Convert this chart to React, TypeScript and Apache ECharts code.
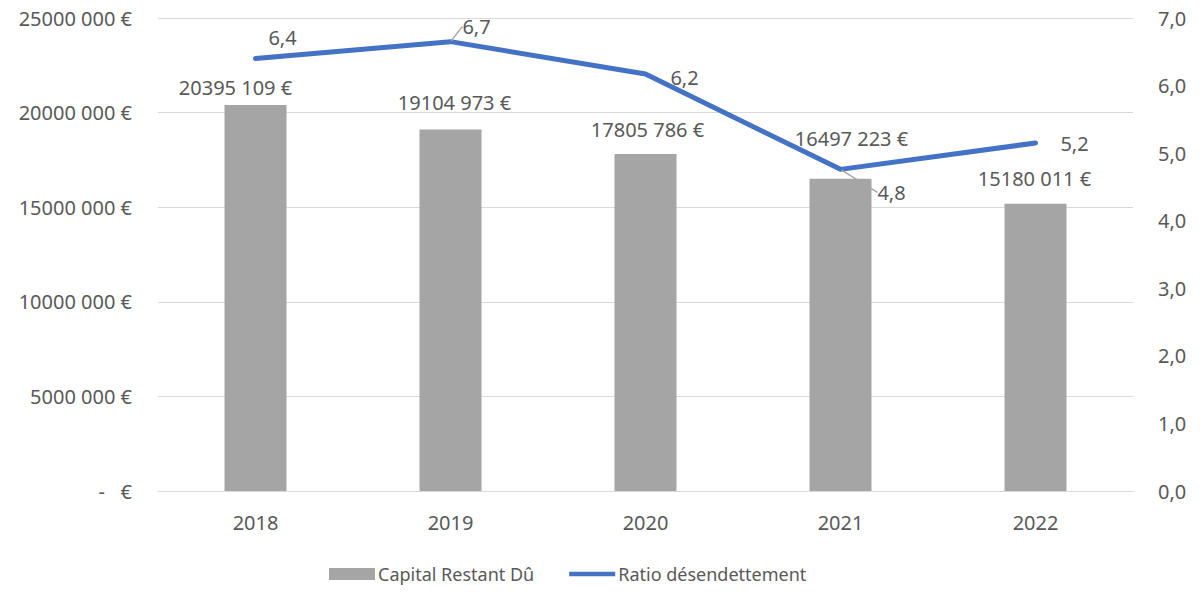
import React, { useEffect, useRef } from "react";
import * as echarts from "echarts";

const years = ["2018", "2019", "2020", "2021", "2022"];
const capital = [20395109, 19104973, 17805786, 16497223, 15180011];
const capitalLabels = ["20395 109 €", "19104 973 €", "17805 786 €", "16497 223 €", "15180 011 €"];
const ratio = [6.4, 6.65, 6.17, 4.76, 5.15];
const ratioLabels = ["6,4", "6,7", "6,2", "4,8", "5,2"];
const leftTickLabels = ["-   €", "5000 000 €", "10000 000 €", "15000 000 €", "20000 000 €", "25000 000 €"];
const rightTickLabels = ["0,0", "1,0", "2,0", "3,0", "4,0", "5,0", "6,0", "7,0"];

const barLabelOffsets = [[-20, -3], [4, -12], [2, -10], [11, -25], [-1, -10]];
const lineLabelOffsets = [[27, -21], [26, -15], [39, 3], [51, 23], [39, 0]];
const lineLeader = [false, true, false, true, false];

const FONT = "'Noto Sans', Roboto, sans-serif";
const TXT = "#595959";
const FS = 20;

export default function App() {
  const ref = useRef<HTMLDivElement>(null);
  useEffect(() => {
    if (!ref.current) return;
    document.body.style.margin = "0";
    const chart = echarts.init(ref.current, undefined, { renderer: "svg" });
    chart.setOption({
      animation: false,
      textStyle: { fontFamily: FONT },
      grid: { left: 158, right: 68, top: 18, bottom: 101, containLabel: false },
      legend: {
        bottom: 4,
        left: 324,
        itemGap: 35,
        itemWidth: 46,
        itemHeight: 12,
        textStyle: { color: TXT, fontSize: 18, fontFamily: FONT, padding: [0, 0, 0, -2] },
        data: [
          { name: "Capital Restant Dû", icon: "rect" },
          {
            name: "Ratio désendettement",
            icon: "path://M0,0 L50,0 L50,5 L0,5 Z",
            itemStyle: { color: "#4472c4", opacity: 1 },
          },
        ],
      },
      xAxis: {
        type: "category",
        data: years,
        axisLine: { lineStyle: { color: "#d9d9d9", width: 1 } },
        axisTick: { show: false },
        axisLabel: { color: TXT, fontSize: FS, margin: 21 },
      },
      yAxis: [
        {
          type: "value",
          min: 0,
          max: 25000000,
          interval: 5000000,
          axisLine: { show: false },
          axisTick: { show: false },
          splitLine: { lineStyle: { color: "#d9d9d9", width: 1 } },
          axisLabel: {
            color: TXT,
            fontSize: FS,
            margin: 26,
            formatter: (v: number) => leftTickLabels[Math.round(v / 5000000)],
          },
        },
        {
          type: "value",
          min: 0,
          max: 7,
          interval: 1,
          axisLine: { show: false },
          axisTick: { show: false },
          splitLine: { show: false },
          axisLabel: {
            color: TXT,
            fontSize: FS,
            margin: 25,
            formatter: (v: number) => rightTickLabels[Math.round(v)],
          },
        },
      ],
      series: [
        {
          name: "Capital Restant Dû",
          type: "bar",
          barWidth: 62,
          itemStyle: { color: "#a5a5a5" },
          data: capital.map((v, i) => ({
            value: v,
            label: {
              show: true,
              position: "top",
              offset: barLabelOffsets[i],
              formatter: () => capitalLabels[i],
              color: TXT,
              fontSize: FS,
            },
          })),
        },
        {
          name: "Ratio désendettement",
          type: "line",
          yAxisIndex: 1,
          symbol: "circle",
          symbolSize: 2,
          itemStyle: { color: "#4472c4" },
          lineStyle: { color: "#4472c4", width: 5, cap: "round", join: "round" },
          labelLayout: (p: any) => ({
            dx: lineLabelOffsets[p.dataIndex][0],
            dy: lineLabelOffsets[p.dataIndex][1],
          }),
          labelLine: { show: false, lineStyle: { color: "#a6a6a6", width: 1.5 } },
          data: ratio.map((v, i) => ({
            value: v,
            label: {
              show: true,
              position: "inside",
              formatter: () => ratioLabels[i],
              color: TXT,
              fontSize: FS,
            },
            labelLine: { show: lineLeader[i], lineStyle: { color: "#a6a6a6", width: 1.5 } },
          })),
        },
      ],
    });
    return () => chart.dispose();
  }, []);
  return <div ref={ref} style={{ width: 1201, height: 592 }} />;
}
